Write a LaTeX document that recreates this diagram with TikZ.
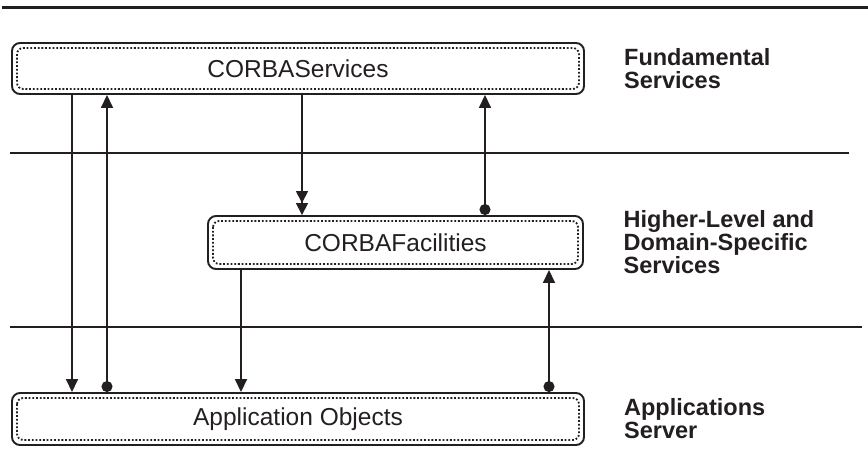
\documentclass[tikz,border=0pt]{standalone}
\usepackage{fontspec}
\setmainfont{Liberation Sans}
\usetikzlibrary{arrows.meta, positioning, calc}
\definecolor{ink}{HTML}{231F20}

\tikzset{
  layer/.style={draw=ink, line width=1.9pt, rounded corners=8pt, text=ink,
    minimum width=572pt, minimum height=51pt, inner sep=0pt,
    font=\fontsize{24.5}{24}\selectfont},
  dotframe/.style={draw=ink, line width=1.8pt, dash pattern=on 1.8pt off 1.9pt, rounded corners=6pt},
  tier/.style={text=ink, align=left, inner sep=0pt, font=\bfseries\fontsize{23.5}{23}\selectfont},
  rule/.style={draw=ink, line width=1.6pt},
  flow/.style={draw=ink, line width=1.6pt},
  down/.style={flow, -{Triangle[width=12pt,length=13pt]}},
  downdown/.style={flow, -{Triangle[width=12pt,length=12pt]Triangle[width=12pt,length=12pt]}},
  up/.style={flow, {Circle[length=11pt]}-{Triangle[width=12pt,length=13pt]}},
}
% inner dotted outline of a layer box
\newcommand{\dotbox}[1]{%
  \draw[dotframe] ([shift={(6pt,-6pt)}]#1.north west) rectangle ([shift={(-6pt,6pt)}]#1.south east);}

\begin{document}
\begin{tikzpicture}[x=1pt, y=-1pt]
    \useasboundingbox (0,0) rectangle (868,476);
    % rules between the tiers
    \draw[ink, line width=3pt] (2,8) -- (868,8);
    \draw[rule] (10,153) -- (849,153);
    \draw[rule] (10,327) -- (862,327);

    % the three layers
    \node[layer] (svc) at (298,68.5) {CORBAServices};
    \node[layer, minimum width=375pt, minimum height=53pt] (fac) at (395.5,242.5) {CORBAFacilities};
    \node[layer, minimum height=52pt] (app) at (298,419) {Application Objects};
    \dotbox{svc}
    \dotbox{fac}
    \dotbox{app}

    % tier names
    \node[tier, right=39pt of svc] (lsvc) {Fundamental\\Services};
    \node[tier, right=39.5pt of fac] (lfac) {Higher-Level and\\Domain-Specific\\Services};
    \node[tier, right=39pt of app] (lapp) {Applications\\Server};

    % columns of the connectors
    \coordinate (c1) at (72,0);
    \coordinate (c2) at (107,0);
    \coordinate (c3) at (302,0);
    \coordinate (c4) at (485,0);
    \coordinate (c5) at (241,0);
    \coordinate (c6) at (549,0);
    \draw[down] (svc.south -| c1) -- (app.north -| c1);
    \draw[up] (app.north -| c2) -- (svc.south -| c2);
    \draw[downdown] (svc.south -| c3) -- (fac.north -| c3);
    \draw[up] (fac.north -| c4) -- (svc.south -| c4);
    \draw[down] (fac.south -| c5) -- (app.north -| c5);
    \draw[up] (app.north -| c6) -- (fac.south -| c6);
\end{tikzpicture}
\end{document}
